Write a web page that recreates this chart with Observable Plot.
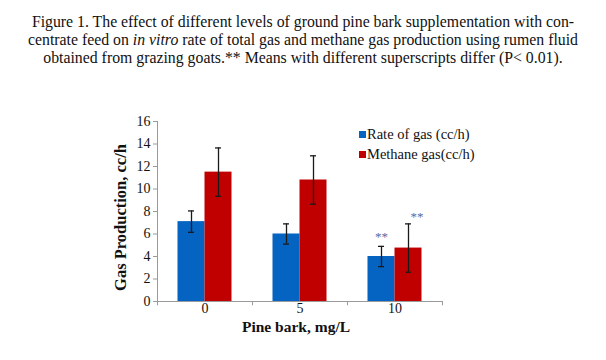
<!DOCTYPE html>
<html>
<head>
<meta charset="utf-8">
<script src="https://cdn.jsdelivr.net/npm/d3@7"></script>
<script src="https://cdn.jsdelivr.net/npm/@observablehq/plot@0.6"></script>
<style>
  html, body { margin: 0; padding: 0; background: #fff; }
  #wrap { position: relative; width: 606px; height: 360px; font-family: "Liberation Serif", "DejaVu Serif", serif; }
  #title { position: absolute; left: 0; top: 13px; width: 606px; text-align: center; font-size: 15.8px; line-height: 18px; color: #111; }
  #legend { position: absolute; left: 359px; top: 124px; font-size: 14.5px; line-height: 20px; color: #111; }
  #legend .sw { display: inline-block; width: 7px; height: 7px; margin-right: 1px; vertical-align: 1px; }
  #chart { position: absolute; left: 0; top: 0; }
</style>
</head>
<body>
<div id="wrap">
  <div id="chart"></div>
  <div id="title">Figure 1. The effect of different levels of ground pine bark supplementation with con-<br>centrate feed on <i>in vitro</i> rate of total gas and methane gas production using rumen fluid<br>obtained from grazing goats.** Means with different superscripts differ (P&lt; 0.01).</div>
  <div id="legend"></div>
</div>
<script>
const categories = ["0", "5", "10"];
const seriesNames = ["Rate of gas (cc/h)", "Methane gas(cc/h)"];
const seriesColors = ["#0563c1", "#c00000"];
const rateValues = [7.1, 6.0, 4.0];
const rateErrors = [0.95, 0.9, 0.9];
const methaneValues = [11.5, 10.8, 4.75];
const methaneErrors = [2.15, 2.15, 2.15];
const rateMarks = ["", "", "**"];
const methaneMarks = ["", "", "**"];
const yTicks = [0, 2, 4, 6, 8, 10, 12, 14, 16];
const xLabel = "Pine bark, mg/L";
const yLabel = "Gas Production, cc/h";

const rate = categories.map((c, i) => ({cat: c, value: rateValues[i], err: rateErrors[i], mark: rateMarks[i]}));
const methane = categories.map((c, i) => ({cat: c, value: methaneValues[i], err: methaneErrors[i], mark: methaneMarks[i]}));

const axisColor = "#9a9a9a";
const errColor = "#1a1a1a";
const starColor = "#5a6aa0";
const tickDepth = -0.38; // tick length below the x axis, in y units

const chart = Plot.plot({
  width: 606,
  height: 360,
  marginLeft: 157,
  marginRight: 164,
  marginTop: 121,
  marginBottom: 59,
  style: {fontFamily: "'Liberation Serif', 'DejaVu Serif', serif", fontSize: "13px", color: "#111", background: "transparent"},
  x: {domain: categories, padding: 0, round: false, label: null},
  y: {domain: [0, 16], label: null},
  marks: [
    Plot.barY(rate, {x: "cat", y: "value", fill: seriesColors[0], insetLeft: 20.5, insetRight: 47.5}),
    Plot.barY(methane, {x: "cat", y: "value", fill: seriesColors[1], insetLeft: 47.5, insetRight: 20.5}),
    // error bars
    Plot.ruleX(rate, {x: "cat", y1: d => d.value - d.err, y2: d => d.value + d.err, dx: -13.5, stroke: errColor, strokeWidth: 1.3}),
    Plot.ruleX(methane, {x: "cat", y1: d => d.value - d.err, y2: d => d.value + d.err, dx: 13.5, stroke: errColor, strokeWidth: 1.3}),
    Plot.tickY(rate, {x: "cat", y: d => d.value - d.err, insetLeft: 31, insetRight: 58, stroke: errColor, strokeWidth: 1.3}),
    Plot.tickY(rate, {x: "cat", y: d => d.value + d.err, insetLeft: 31, insetRight: 58, stroke: errColor, strokeWidth: 1.3}),
    Plot.tickY(methane, {x: "cat", y: d => d.value - d.err, insetLeft: 58, insetRight: 31, stroke: errColor, strokeWidth: 1.3}),
    Plot.tickY(methane, {x: "cat", y: d => d.value + d.err, insetLeft: 58, insetRight: 31, stroke: errColor, strokeWidth: 1.3}),
    // significance marks
    Plot.text(rate, {x: "cat", y: d => d.value + d.err, text: "mark", dx: -13.5, dy: -10, fill: starColor, fontSize: 13}),
    Plot.text(methane, {x: "cat", y: d => d.value + d.err, text: "mark", dx: 22, dy: -7, fill: starColor, fontSize: 13}),
    // axes
    Plot.ruleY([0], {stroke: axisColor}),
    Plot.ruleX([categories[0]], {x: d => d, y1: 0, y2: 16, dx: -47.5, stroke: axisColor}),
    Plot.ruleX(categories, {x: d => d, y1: tickDepth, y2: 0, dx: -47.5, stroke: axisColor}),
    Plot.ruleX([categories[categories.length - 1]], {x: d => d, y1: tickDepth, y2: 0, dx: 47.5, stroke: axisColor}),
    Plot.axisY({ticks: yTicks, tickSize: 4, tickPadding: 3, stroke: axisColor, fill: "#111", fontSize: 14, label: null}),
    Plot.axisX({tickSize: 0, tickPadding: 2, fill: "#111", fontSize: 14, label: null}),
    Plot.text([xLabel], {frameAnchor: "bottom", lineAnchor: "middle", dx: -4, dy: 26, text: d => d, fontWeight: "bold", fontSize: 15.5, fill: "#111"}),
    Plot.text([yLabel], {frameAnchor: "left", textAnchor: "middle", lineAnchor: "middle", dx: -37, dy: 6, rotate: -90, text: d => d, fontWeight: "bold", fontSize: 16.5, fill: "#111"})
  ]
});
document.getElementById("chart").appendChild(chart);

const legend = document.getElementById("legend");
seriesNames.forEach((name, i) => {
  const row = document.createElement("div");
  row.innerHTML = `<span class="sw" style="background:${seriesColors[i]}"></span>${name}`;
  legend.appendChild(row);
});
</script>
</body>
</html>
